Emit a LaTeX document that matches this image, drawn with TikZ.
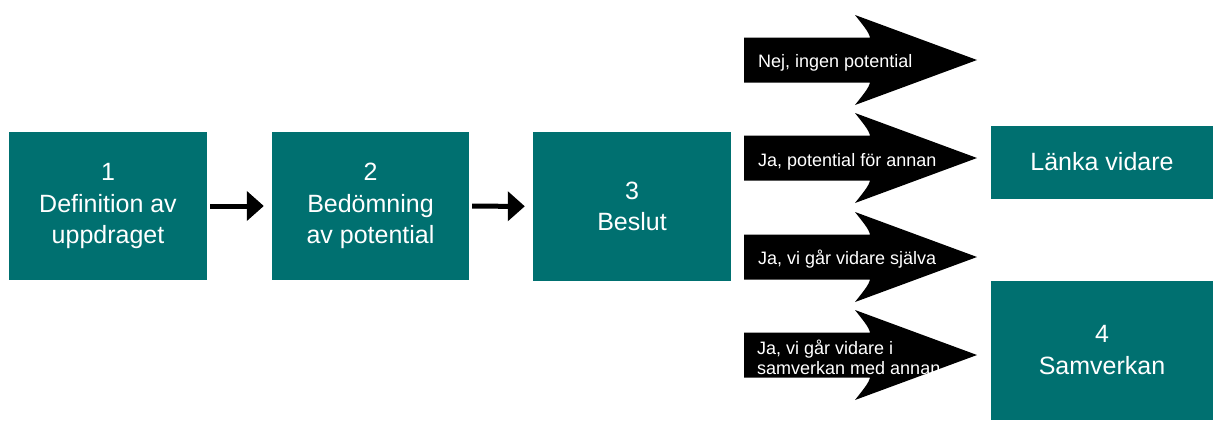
\documentclass[tikz,border=0pt]{standalone}
\usepackage{fontspec}
\setmainfont{Liberation Sans}
\usetikzlibrary{arrows.meta}
\definecolor{teal}{RGB}{0,112,112}
\begin{document}
\begin{tikzpicture}[x=1pt,y=-1pt,
  stage/.style={fill=teal,text=white,inner sep=0pt,align=center,
    font=\fontsize{25}{31.5}\selectfont},
  flowarrow/.style={line width=5pt,-{Triangle[length=17pt,width=29pt]},
    shorten <=3pt,shorten >=8pt},
  optiontext/.style={text=white,inner sep=0pt,align=left,
    font=\fontsize{18}{20}\selectfont},
  blockarrow/.style={fill=black}]
\useasboundingbox (0,0) rectangle (1215,421);

% process stages
\node[stage,minimum width=198pt,minimum height=148pt] (s1) at (108,206)
  {\raisebox{-5pt}{\parbox{190pt}{\centering 1\\Definition av\\uppdraget}}};
\node[stage,minimum width=197pt,minimum height=148pt] (s2) at (370.5,206)
  {\raisebox{-5pt}{\parbox{190pt}{\centering 2\\Bedömning\\av potential}}};
\node[stage,minimum width=198pt,minimum height=149pt] (s3) at (632,206.5)
  {\raisebox{-4pt}{\parbox{190pt}{\centering 3\\Beslut}}};
\node[stage,minimum width=222pt,minimum height=73pt] (link) at (1102,162)
  {Länka vidare};
\node[stage,minimum width=222pt,minimum height=139pt] (s4) at (1102,350)
  {\raisebox{-4pt}{\parbox{210pt}{\centering 4\\Samverkan}}};

\draw[flowarrow] (s1) -- (s2);
\draw[flowarrow] (s2) -- (s3);

% decision outcomes as block arrows
\foreach \cy in {60,158,257,355}{
  \fill[blockarrow] (744,\cy-22.5) -- (870,\cy-22.5)
    .. controls (869,\cy-28) and (862,\cy-36) .. (855,\cy-45)
    -- (977,\cy) -- (855,\cy+45)
    .. controls (862,\cy+36) and (869,\cy+28) .. (870,\cy+22.5)
    -- (744,\cy+22.5) -- cycle;
}
\node[optiontext,anchor=base west] (o1) at (758,67) {Nej, ingen potential};
\node[optiontext,anchor=base west] (o2) at (758,166) {Ja, potential för annan};
\node[optiontext,anchor=base west] (o3) at (758,264) {Ja, vi går vidare själva};
\node[optiontext,anchor=west] (o4) at (757,357)
  {Ja, vi går vidare i\\samverkan med annan};
\end{tikzpicture}
\end{document}
